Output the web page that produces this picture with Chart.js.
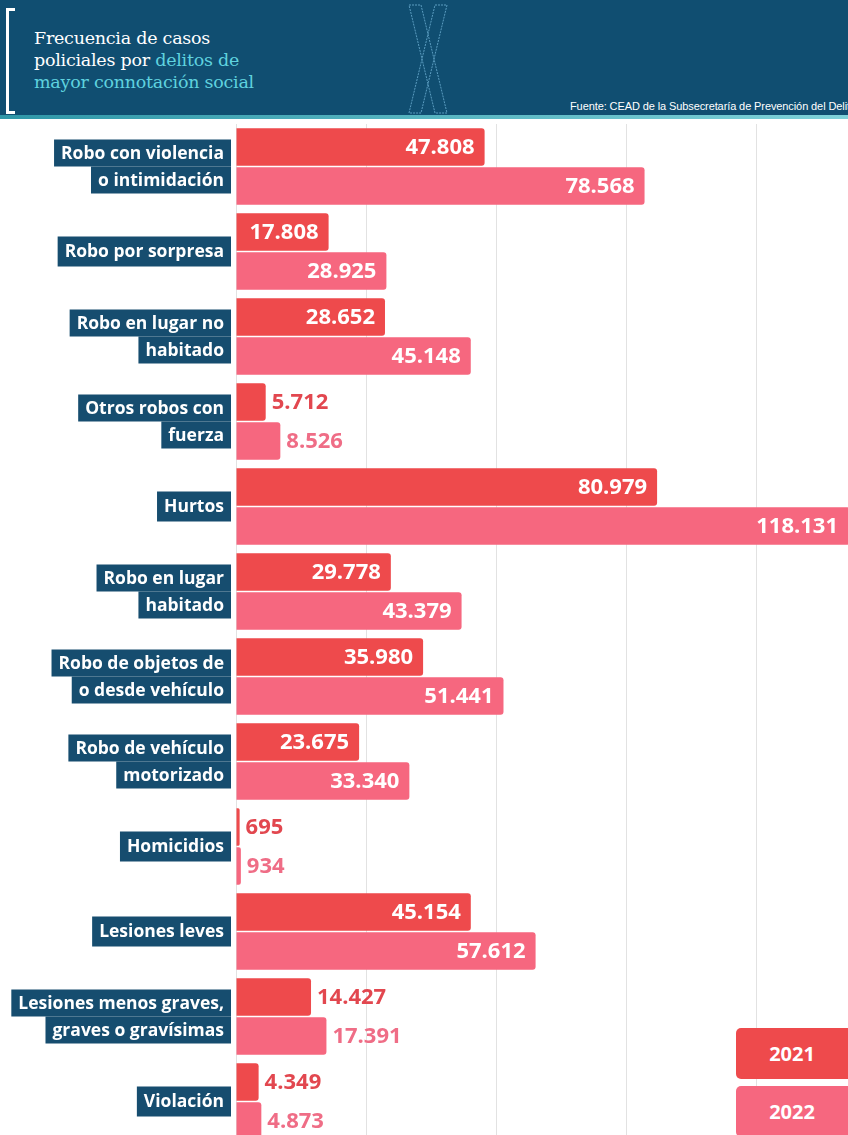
<!DOCTYPE html>
<html>
<head>
<meta charset="utf-8">
<script src="https://cdn.jsdelivr.net/npm/chart.js@4.4.0/dist/chart.umd.min.js"></script>
<style>
  html, body { margin: 0; padding: 0; background: #fff; overflow: hidden; width: 848px; height: 1135px; }
  #header { position: absolute; left: 0; top: 0; width: 848px; height: 115px; background: #104e71; }
  #header .bar { position: absolute; left: 0; top: 115px; width: 848px; height: 4px; background: linear-gradient(90deg, #2f97a8, #7fd2d9); }
  #title { position: absolute; left: 34px; top: 27px; font-family: "DejaVu Serif", serif; font-size: 17.5px; line-height: 22px; color: #fff; letter-spacing: -0.25px; }
  #title span { color: #5fd2df; }
  #source { position: absolute; left: 570px; top: 100px; font-family: "Liberation Sans Narrow", "Liberation Sans", sans-serif; font-size: 11px; line-height: 12px; color: #fff; white-space: nowrap; letter-spacing: -0.1px; }
  #bracket { position: absolute; left: 6px; top: 8px; width: 6px; height: 100px; border: 3px solid #fff; border-right: none; }
  #xmark { position: absolute; left: 405px; top: 3px; }
  #wrap { position: absolute; left: 0; top: 124px; width: 860px; height: 1020px; }
  .leg { position: absolute; left: 736px; width: 120px; height: 51px; border-radius: 5px; color: #fff;
         font-family: "Open Sans", sans-serif; font-weight: 700; font-size: 20px; line-height: 51px; text-align: center; padding-right: 8px; box-sizing: border-box; }
</style>
</head>
<body>
<div id="header">
  <div id="bracket"></div>
  <div id="title">Frecuencia de casos<br>policiales por <span>delitos de<br>mayor connotación social</span></div>
  <svg id="xmark" width="46" height="112" viewBox="0 0 46 112">
    <polygon points="4,2 16,2 42,110 30,110" fill="none" stroke="#5a9cc0" stroke-width="1" stroke-dasharray="2,1"/>
    <polygon points="30,2 42,2 16,110 4,110" fill="none" stroke="#5a9cc0" stroke-width="1" stroke-dasharray="2,1"/>
  </svg>
  <div id="source">Fuente: CEAD de la Subsecretaría de Prevención del Delito</div>
  <div class="bar"></div>
</div>

<div id="wrap"><canvas id="chart"></canvas></div>

<div class="leg" style="top:1028px;background:#ee4a4c;">2021</div>
<div class="leg" style="top:1086px;background:#f6677f;">2022</div>

<script>
// categories (each entry split into the lines shown in the label box)
const categories = [
    ['Robo con violencia', 'o intimidación'],
    ['Robo por sorpresa'],
    ['Robo en lugar no', 'habitado'],
    ['Otros robos con', 'fuerza'],
    ['Hurtos'],
    ['Robo en lugar', 'habitado'],
    ['Robo de objetos de', 'o desde vehículo'],
    ['Robo de vehículo', 'motorizado'],
    ['Homicidios'],
    ['Lesiones leves'],
    ['Lesiones menos graves,', 'graves o gravísimas'],
    ['Violación']
];
const years = ['2021', '2022'];
const values2021 = [47808, 17808, 28652, 5712, 80979, 29778, 35980, 23675, 695, 45154, 14427, 4349];
const values2022 = [78568, 28925, 45148, 8526, 118131, 43379, 51441, 33340, 934, 57612, 17391, 4873];
const xTicks = [0, 25000, 50000, 75000, 100000];

const barColors = ['#ee4a4c', '#f6677f'];
const outsideText = ['#e2474f', '#ef6d86'];

function fmt(n) {
    return String(n).replace(/\B(?=(\d{3})+(?!\d))/g, '.');
}

// labels on the left, dark boxes behind each line
const categoryLabels = {
    id: 'categoryLabels',
    afterDraw(chart) {
        const ctx = chart.ctx;
        const y = chart.scales.y;
        const right = chart.chartArea.left - 5;
        const lineH = 27;
        ctx.save();
        ctx.font = '700 17.5px "Open Sans", sans-serif';
        ctx.textAlign = 'right';
        ctx.textBaseline = 'middle';
        categories.forEach((lines, i) => {
            const cy = y.getPixelForValue(i);
            const h = lines.length === 1 ? 30 : lineH;
            const top = cy - (lines.length * h) / 2;
            lines.forEach((line, j) => {
                const w = ctx.measureText(line).width + 14;
                ctx.fillStyle = '#164d6f';
                ctx.fillRect(right - w, top + j * h, w, h);
                ctx.fillStyle = '#fff';
                ctx.fillText(line, right - 7, top + j * h + h / 2 + 1);
            });
        });
        ctx.restore();
    }
};

// values at the bar ends, inside when they fit
const valueLabels = {
    id: 'valueLabels',
    afterDatasetsDraw(chart) {
        const ctx = chart.ctx;
        ctx.save();
        ctx.font = '700 22px "Open Sans", sans-serif';
        ctx.textBaseline = 'middle';
        chart.data.datasets.forEach((ds, d) => {
            chart.getDatasetMeta(d).data.forEach((bar, i) => {
                const txt = fmt(ds.data[i]);
                const width = bar.x - bar.base;
                if (width > 91) {
                    ctx.textAlign = 'right';
                    ctx.fillStyle = '#fff';
                    ctx.fillText(txt, Math.min(bar.x, 848) - 10, bar.y + 1);
                } else {
                    ctx.textAlign = 'left';
                    ctx.fillStyle = outsideText[d];
                    ctx.fillText(txt, bar.x + 6, bar.y + 1);
                }
            });
        });
        ctx.restore();
    }
};

new Chart(document.getElementById('chart'), {
    type: 'bar',
    data: {
        labels: categories,
        datasets: [
            { label: years[0], data: values2021, backgroundColor: barColors[0] },
            { label: years[1], data: values2022, backgroundColor: barColors[1] }
        ]
    },
    options: {
        indexAxis: 'y',
        responsive: true,
        maintainAspectRatio: false,
        animation: false,
        layout: { padding: { left: 236, right: 0, top: 0, bottom: 0 } },
        datasets: {
            bar: {
                categoryPercentage: 0.915,
                barPercentage: 0.965,
                borderRadius: { topRight: 3, bottomRight: 3 },
                borderSkipped: 'start'
            }
        },
        plugins: {
            legend: { display: false },
            tooltip: { enabled: false }
        },
        scales: {
            x: {
                min: xTicks[0],
                max: 120000,
                afterBuildTicks: (axis) => { axis.ticks = xTicks.map(v => ({ value: v })); },
                ticks: { display: false },
                grid: { color: '#e2e2e2', lineWidth: 1, drawTicks: false },
                border: { display: false }
            },
            y: {
                display: false
            }
        }
    },
    plugins: [categoryLabels, valueLabels]
});
</script>
</body>
</html>
